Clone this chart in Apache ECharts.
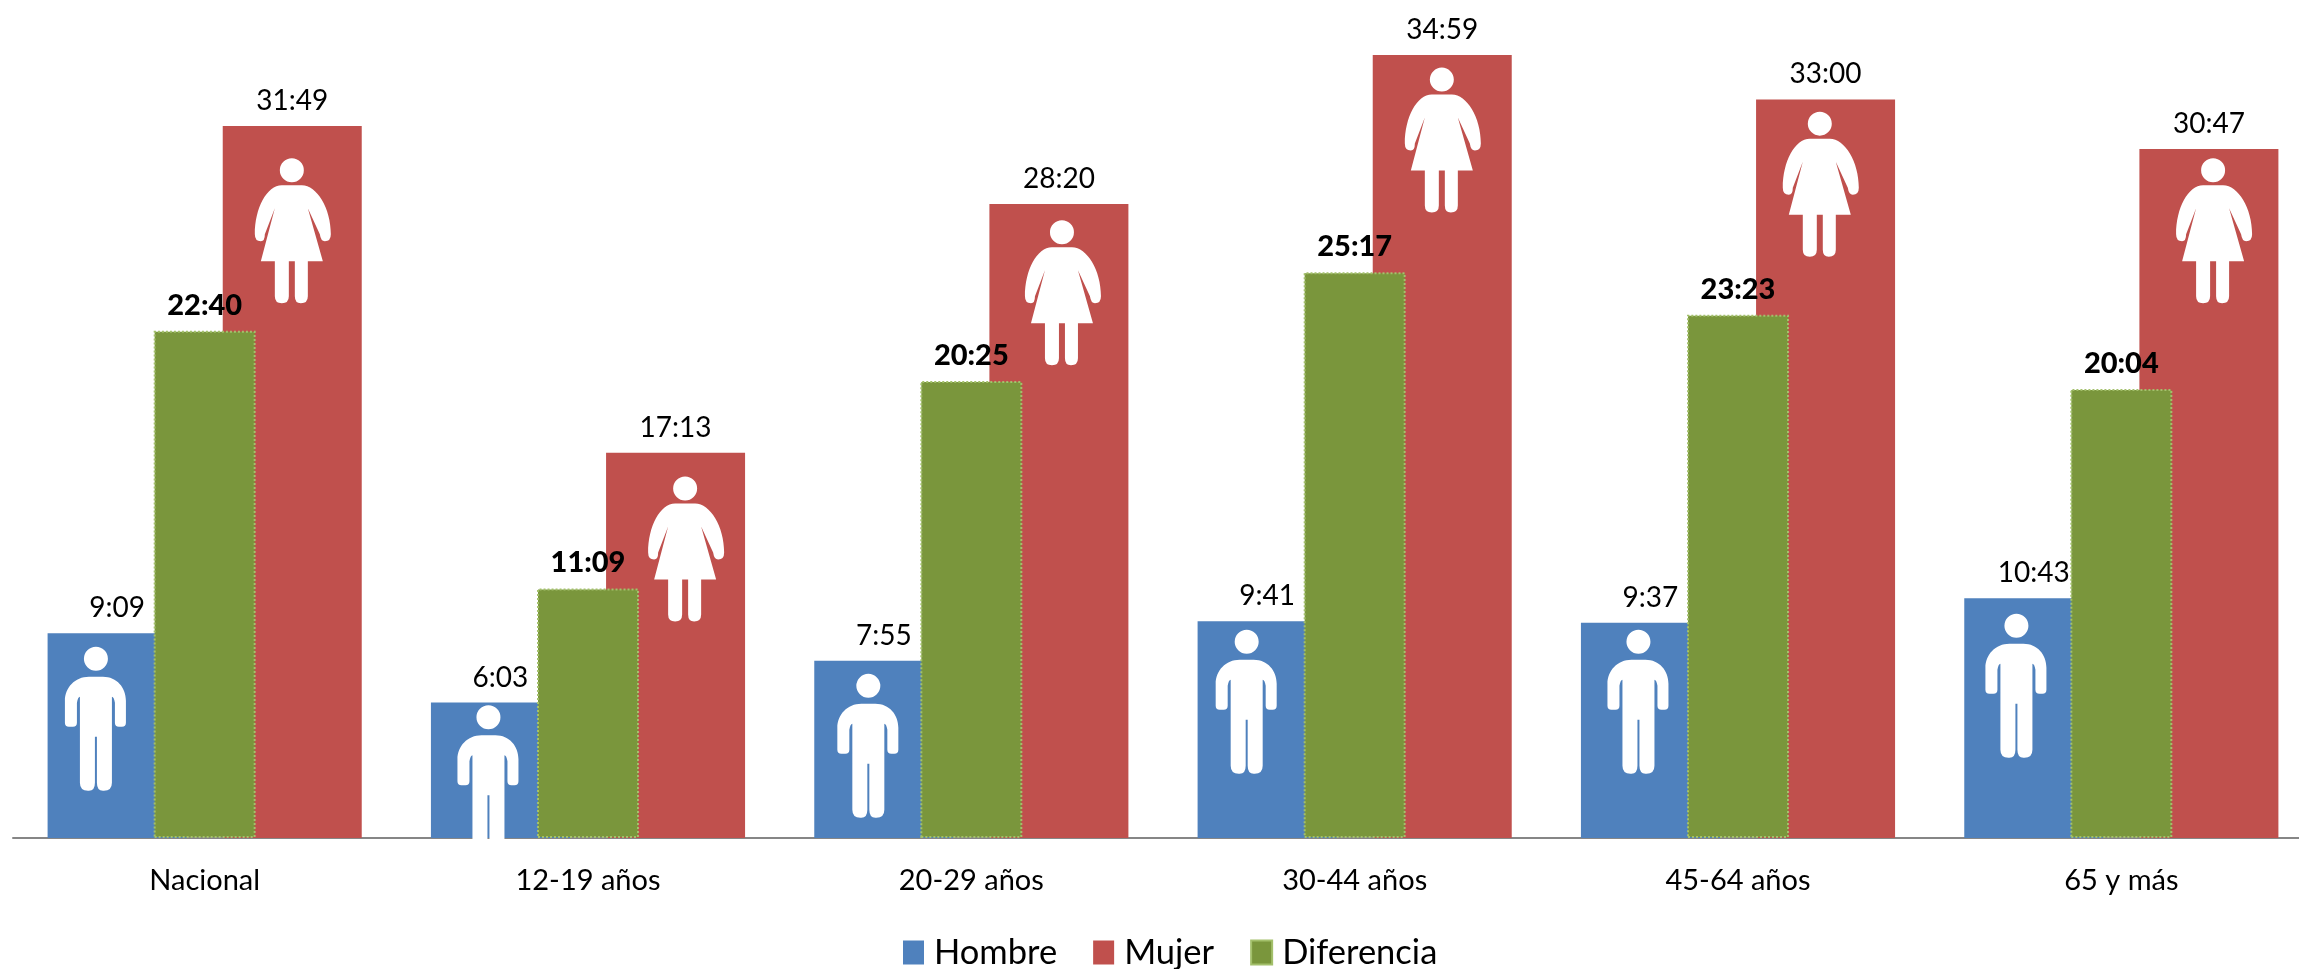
<!DOCTYPE html>
<html><head><meta charset="utf-8">
<style>html,body{margin:0;padding:0;background:#fff}#c{width:2299px;height:969px}</style>
<script src="https://cdn.jsdelivr.net/npm/echarts@6/dist/echarts.min.js"></script>
</head><body><div id="c"></div>
<script>
const categories = ['Nacional','12-19 años','20-29 años','30-44 años','45-64 años','65 y más'];
// values in seconds (displayed as mm:ss)
const hombre = [549,363,475,581,577,643];
const mujer = [1909,1033,1700,2099,1980,1847];
const diferencia = [1360,669,1225,1517,1403,1204];
// pictogram anchor points: position along the categories, and height in seconds
const hombreIconPos = [0.215,1.239,2.230,3.217,4.239,5.225];
const hombreIconVal = [320,163,247,365,365,408];
const mujerIconPos = [0.730,1.756,2.739,3.730,4.716,5.742];
const mujerIconVal = [1628,775,1462,1871,1753,1628];

const manPath = 'path://M19 12A12 12 0 1 1 43 12A12 12 0 1 1 19 12ZM24 30L38 30C52 30 61 41 61 54L61 76Q61 80 57 80L54 80Q50 80 50 76L50 56Q49 50 47 50L47 136Q47 144 39 144L38 144Q32 144 32 136L32 90L30 90L30 136Q30 144 24 144L23 144Q15 144 15 136L15 50Q13 50 12 56L12 76Q12 80 8 80L4 80Q0 80 0 76L0 54C0 41 10 30 24 30Z';
const womanPath = 'path://M25 12A12 12 0 1 1 49 12A12 12 0 1 1 25 12ZM27 27L47 27C62 27 76 50 76 76Q76 83 70 83Q66 83 65 76L53 50L68 103L53 103L53 138Q53 145 46 145Q40 145 40 138L40 103L34 103L34 138Q34 145 27 145Q20 145 20 138L20 103L6 103L20 50L10 76Q10 83 6 83Q0 83 0 76C0 50 12 27 27 27Z';

const mmss = s => Math.floor(s/60) + ':' + String(s%60).padStart(2,'0');
const labelFont = 'Lato';
const lbl = (bold) => ({show:true,position:'top',distance:11,fontFamily:labelFont,fontSize:bold?29:28,
  fontWeight:bold?900:400,color:'#000',formatter:p=>mmss(p.value)});
const zip = (a,b) => a.map((v,i)=>[v,b[i]]);

const chart = echarts.init(document.getElementById('c'),null,{renderer:'canvas'});
chart.setOption({
  animation:false,
  backgroundColor:'#fff',
  grid:{left:13,top:17.4,width:2300,height:820.6,containLabel:false,outerBoundsMode:'none'},
  legend:{left:903,top:935,padding:0,itemWidth:21,itemHeight:24,itemGap:36,icon:'rect',
    data:['Hombre','Mujer','Diferencia'],
    textStyle:{fontFamily:'Lato',fontSize:34.5,color:'#000',padding:[0,0,0,5]}},
  xAxis:[
    {type:'category',data:categories,axisTick:{show:false},
     axisLine:{lineStyle:{color:'#868686',width:2}},
     axisLabel:{fontFamily:'Lato',fontSize:29,color:'#000',margin:28}},
    {type:'category',data:categories,show:false},
    {type:'value',min:0,max:6,show:false}
  ],
  yAxis:{type:'value',min:0,max:2200,interval:200,show:false},
  series:[
    {name:'Hombre',type:'bar',data:hombre,xAxisIndex:0,barWidth:139,barGap:'26%',
     itemStyle:{color:'#4F81BD'},label:lbl(false),z:2},
    {name:'Mujer',type:'bar',data:mujer,xAxisIndex:0,barWidth:139,barGap:'26%',
     itemStyle:{color:'#C0504D'},label:lbl(false),z:2},
    {name:'Diferencia',type:'bar',data:diferencia,xAxisIndex:1,barWidth:102,
     itemStyle:{color:'#7A963C',borderColor:'#A3C06B',borderWidth:2,borderType:'dotted'},
     label:lbl(true),z:3},
    {name:'iconoHombre',type:'scatter',xAxisIndex:2,data:zip(hombreIconPos,hombreIconVal),
     symbol:manPath,symbolSize:[61,144],itemStyle:{color:'#fff',opacity:1},clip:true,z:4,silent:true},
    {name:'iconoMujer',type:'scatter',xAxisIndex:2,data:zip(mujerIconPos,mujerIconVal),
     symbol:womanPath,symbolSize:[76,145],itemStyle:{color:'#fff',opacity:1},clip:true,z:4,silent:true}
  ]
});
</script></body></html>
